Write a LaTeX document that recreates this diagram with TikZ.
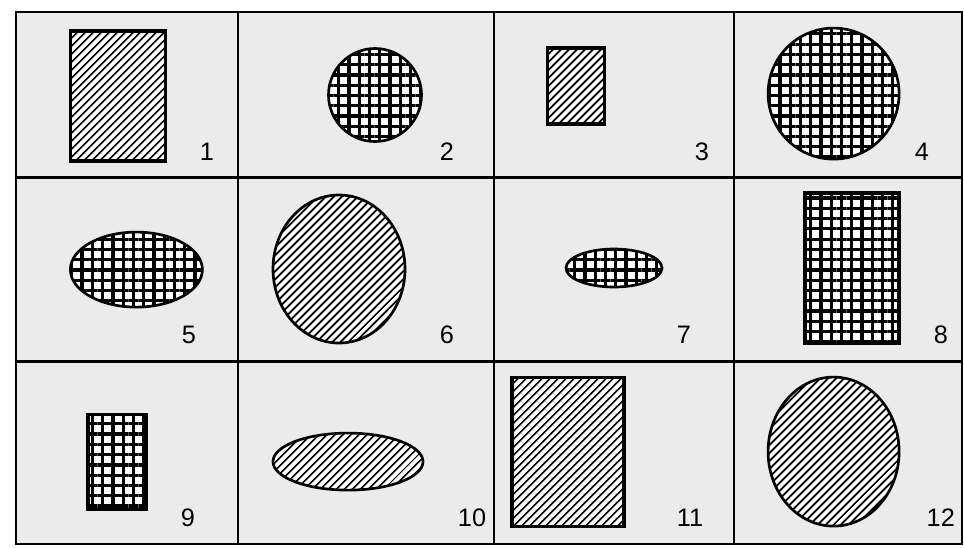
\documentclass[tikz,border=0pt]{standalone}
\usepackage{fontspec}
\setmainfont{Liberation Sans}
\usepackage{tikz}
\usetikzlibrary{shapes.geometric, patterns.meta}
\definecolor{paper}{HTML}{EBEBEB}

\begin{document}
\begin{tikzpicture}[
  frame/.style={line width=1.8pt, black},
  box/.style={rectangle, draw, line width=2.2pt, inner sep=0pt},
  disc/.style={circle, draw, line width=1.9pt, inner sep=0pt},
  oval/.style={ellipse, draw, line width=1.9pt, inner sep=0pt},
  hatched/.style={preaction={fill=white},
                  pattern={Lines[angle=45, distance=4.0pt, line width=1.3pt]}},
  checked/.style={preaction={fill=white},
                  pattern={Hatch[distance=7.3pt, line width=2.3pt]}},
  num/.style={font=\fontsize{18}{20}\selectfont},
]

\useasboundingbox (0, 0) rectangle (24.1, -13.675);
\fill[paper] (0.40, -0.30) rectangle (24.05, -13.60);

% table
\draw[frame] (0.40, -0.30) rectangle (24.05, -13.60);
\draw[frame] (5.95, -0.30) -- (5.95, -13.60);
\draw[frame] (12.35, -0.30) -- (12.35, -13.60);
\draw[frame] (18.35, -0.30) -- (18.35, -13.60);
\draw[frame] (0.40, -4.44) -- (24.05, -4.44);
\draw[frame] (0.40, -9.04) -- (24.05, -9.04);

% first row
\node[box, hatched, minimum width=2.375cm, minimum height=3.25cm] (s1) at (2.940, -2.400) {};
\node[disc, checked, minimum size=2.325cm] (s2) at (9.375, -2.375) {};
\node[box, hatched, minimum width=1.425cm, minimum height=1.90cm] (s3) at (14.410, -2.150) {};
\node[disc, checked, minimum size=3.275cm] (s4) at (20.840, -2.340) {};

% second row
\node[oval, checked, minimum width=3.30cm, minimum height=1.875cm] (s5) at (3.410, -6.740) {};
\node[oval, hatched, minimum width=3.30cm, minimum height=3.70cm] (s6) at (8.475, -6.725) {};
\node[oval, checked, minimum width=2.40cm, minimum height=0.95cm] (s7) at (15.350, -6.700) {};
\node[box, checked, minimum width=2.35cm, minimum height=3.75cm] (s8) at (21.300, -6.700) {};

% third row
\node[box, checked, minimum width=1.45cm, minimum height=2.375cm] (s9) at (2.925, -11.560) {};
\node[oval, hatched, minimum width=3.75cm, minimum height=1.425cm] (s10) at (8.700, -11.540) {};
\node[box, hatched, minimum width=2.80cm, minimum height=3.725cm] (s11) at (14.200, -11.310) {};
\node[oval, hatched, minimum width=3.275cm, minimum height=3.725cm] (s12) at (20.840, -11.290) {};

% numbers
\node[num] (n1) at (5.170, -3.800) {1};
\node[num] (n2) at (11.170, -3.800) {2};
\node[num] (n3) at (17.550, -3.800) {3};
\node[num] (n4) at (23.050, -3.800) {4};
\node[num] (n5) at (4.725, -8.375) {5};
\node[num] (n6) at (11.170, -8.375) {6};
\node[num] (n7) at (17.100, -8.375) {7};
\node[num] (n8) at (23.520, -8.375) {8};
\node[num] (n9) at (4.700, -12.950) {9};
\node[num] (n10) at (11.800, -12.950) {10};
\node[num] (n11) at (17.250, -12.950) {11};
\node[num] (n12) at (23.520, -12.950) {12};

\end{tikzpicture}
\end{document}
